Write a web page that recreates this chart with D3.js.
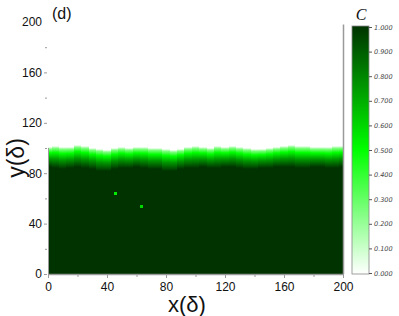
<!DOCTYPE html>
<html>
<head>
<meta charset="utf-8">
<script src="https://cdn.jsdelivr.net/npm/d3@7"></script>
<style>
  body { margin: 0; background: #fff; }
  svg { display: block; }
  .tick text { font-family: "Liberation Sans", Arial, sans-serif; }
</style>
</head>
<body>
<div id="chart"></div>
<script>
// front position, every 5 units of x
const frontX = [0, 5, 10, 15, 20, 25, 30, 35, 40, 45, 50, 55, 60, 65, 70, 75, 80, 85, 90, 95, 100,
  105, 110, 115, 120, 125, 130, 135, 140, 145, 150, 155, 160, 165, 170, 175, 180, 185, 190, 195, 200];
// top edge of the front (C ~ 0)
const frontTop = [100.8, 101.6, 100.8, 100.8, 102.4, 101.6, 100, 99.2, 98.4, 100, 100.8, 100, 100.8, 100.8, 100, 100,
  99.2, 98.4, 99.2, 100.8, 101.6, 100.8, 100, 101.6, 100.8, 101.6, 100.8, 100, 99.2, 99.2, 100,
  100.8, 101.6, 102.4, 101.6, 101.6, 100.8, 100.8, 100.8, 101.6, 101.6];
// where the field becomes fully saturated (C ~ 1)
const frontBase = [85, 84, 83, 84, 85, 84, 83, 82, 82, 83, 84, 84, 85, 84, 83, 83,
  82, 82, 83, 84, 84, 85, 84, 84, 85, 85, 84, 83, 83, 84, 84,
  85, 85, 85, 84, 84, 85, 85, 84, 84, 85];
// isolated bright spots inside the dark region
const spots = [{ x: 45.4, y: 64.3, c: 0.55 }, { x: 63, y: 54, c: 0.6 }];

const xTicks = [0, 40, 80, 120, 160, 200];
const yTicks = [0, 40, 80, 120, 160, 200];
const minorTicks = [20, 60, 100, 140, 180];
const cTicks = [0, 0.1, 0.2, 0.3, 0.4, 0.5, 0.6, 0.7, 0.8, 0.9, 1.0];
// C level at each stop of the front gradient (top to bottom)
const gradStops = [[0, 0.0], [0.1, 0.25], [0.3, 0.5], [0.6, 0.75], [1, 1.0]];

const width = 399, height = 316;
const plot = { left: 48, right: 343, top: 22, bottom: 274 };

const svg = d3.select('#chart').append('svg')
  .attr('width', width).attr('height', height);

const x = d3.scaleLinear().domain([0, 200]).range([plot.left, plot.right]);
const y = d3.scaleLinear().domain([0, 200]).range([plot.bottom, plot.top]);
const color = d3.scaleLinear().domain([0, 0.5, 1])
  .range(['#ffffff', '#00ff00', '#003300']).interpolate(d3.interpolateRgb);

const defs = svg.append('defs');

// heat map columns
const field = svg.append('g').attr('class', 'field').attr('shape-rendering', 'crispEdges');
const px = (v) => Math.round(x(v));
const py = (v) => Math.round(y(v));
field.append('rect')
  .attr('x', px(0)).attr('width', px(200) - px(0))
  .attr('y', py(80)).attr('height', py(0) - py(80))
  .attr('fill', color(1));
frontX.forEach((fx, i) => {
  const x0 = Math.max(0, fx - 2.5), x1 = Math.min(200, fx + 2.5);
  const gid = 'g' + i;
  const g = defs.append('linearGradient').attr('id', gid)
    .attr('x1', 0).attr('y1', 0).attr('x2', 0).attr('y2', 1);
  gradStops.forEach(([o, c]) => g.append('stop').attr('offset', o).attr('stop-color', color(c)));
  field.append('rect')
    .attr('x', px(x0)).attr('width', px(x1) - px(x0))
    .attr('y', py(frontTop[i])).attr('height', py(frontBase[i]) - py(frontTop[i]))
    .attr('fill', `url(#${gid})`);
  field.append('rect')
    .attr('x', px(x0)).attr('width', px(x1) - px(x0))
    .attr('y', py(frontBase[i])).attr('height', py(80) - py(frontBase[i]) + 1)
    .attr('fill', color(1));
});

field.selectAll('.spot').data(spots).join('rect')
  .attr('class', 'spot')
  .attr('x', (d) => px(d.x) - 1).attr('y', (d) => py(d.y) - 1)
  .attr('width', 3).attr('height', 3)
  .attr('fill', (d) => color(d.c));

// spines
const spine = '#9a9a9a';
svg.append('line').attr('x1', plot.left + 0.5).attr('x2', plot.left + 0.5)
  .attr('y1', y(0)).attr('y2', y(100)).attr('stroke', spine);
svg.append('line').attr('x1', plot.right + 0.5).attr('x2', plot.right + 0.5)
  .attr('y1', y(0)).attr('y2', y(198)).attr('stroke', spine).attr('stroke-width', 1.5);
svg.append('line').attr('x1', plot.left).attr('x2', plot.right + 1)
  .attr('y1', y(0) + 0.5).attr('y2', y(0) + 0.5).attr('stroke', spine).attr('stroke-width', 1.5);

// axes
const xAxis = svg.append('g').attr('transform', `translate(0,${plot.bottom + 1})`)
  .call(d3.axisBottom(x).tickValues(xTicks).tickSize(3).tickPadding(4));
xAxis.append('g').selectAll('line').data(minorTicks).join('line')
  .attr('x1', (d) => x(d) + 0.5).attr('x2', (d) => x(d) + 0.5)
  .attr('y1', 0).attr('y2', 2).attr('stroke', spine);

const yAxis = svg.append('g').attr('transform', `translate(${plot.left - 1},0)`)
  .call(d3.axisLeft(y).tickValues(yTicks).tickFormat((d) => d).tickSize(3).tickPadding(2));
yAxis.append('g').selectAll('line').data(minorTicks).join('line')
  .attr('x1', -2).attr('x2', 0)
  .attr('y1', (d) => y(d) + 0.5).attr('y2', (d) => y(d) + 0.5).attr('stroke', spine);

[xAxis, yAxis].forEach((a) => {
  a.select('.domain').remove();
  a.selectAll('.tick line').attr('stroke', spine);
  a.selectAll('.tick text').attr('font-size', 12).attr('fill', '#111');
});
yAxis.selectAll('.tick').filter((d) => d === 200).select('line').remove();

// axis titles
svg.append('text').attr('x', 187).attr('y', 312)
  .attr('text-anchor', 'middle')
  .style('font-family', '"Liberation Sans", Arial, sans-serif')
  .style('font-size', '22px').attr('fill', '#111').text('x(δ)');
svg.append('text')
  .attr('transform', 'translate(24,158) rotate(-90)')
  .attr('text-anchor', 'middle')
  .style('font-family', '"Liberation Sans", Arial, sans-serif')
  .style('font-size', '23px').attr('fill', '#111').text('y(δ)');
svg.append('text').attr('x', 52).attr('y', 19)
  .style('font-family', '"Liberation Sans", Arial, sans-serif')
  .style('font-size', '16px').attr('fill', '#111').text('(d)');

// colour bar
const bar = { left: 352, right: 369, top: 27, bottom: 273 };
const cy = d3.scaleLinear().domain([0, 1]).range([bar.bottom, bar.top]);
const cg = defs.append('linearGradient').attr('id', 'cbar')
  .attr('x1', 0).attr('y1', 1).attr('x2', 0).attr('y2', 0);
cTicks.forEach((c) => cg.append('stop').attr('offset', c).attr('stop-color', color(c)));
svg.append('rect')
  .attr('x', bar.left).attr('y', bar.top - 1)
  .attr('width', bar.right - bar.left).attr('height', bar.bottom - bar.top + 2)
  .attr('fill', 'url(#cbar)').attr('stroke', '#888').attr('stroke-width', 0.8);

const cAxis = svg.append('g').attr('transform', `translate(${bar.right},0)`)
  .call(d3.axisRight(cy).tickValues(cTicks).tickFormat(d3.format('.3f')).tickSize(3).tickPadding(2));
cAxis.select('.domain').remove();
cAxis.selectAll('.tick line').attr('stroke', '#555');
cAxis.selectAll('.tick text')
  .attr('font-size', 6.5).attr('font-style', 'italic').attr('fill', '#444')
  .style('font-family', '"DejaVu Sans", sans-serif');

svg.append('text').attr('x', 361).attr('y', 20)
  .attr('text-anchor', 'middle')
  .style('font-family', '"Liberation Serif", "Times New Roman", serif')
  .style('font-style', 'italic').style('font-size', '16px').attr('fill', '#111').text('C');
</script>
</body>
</html>
